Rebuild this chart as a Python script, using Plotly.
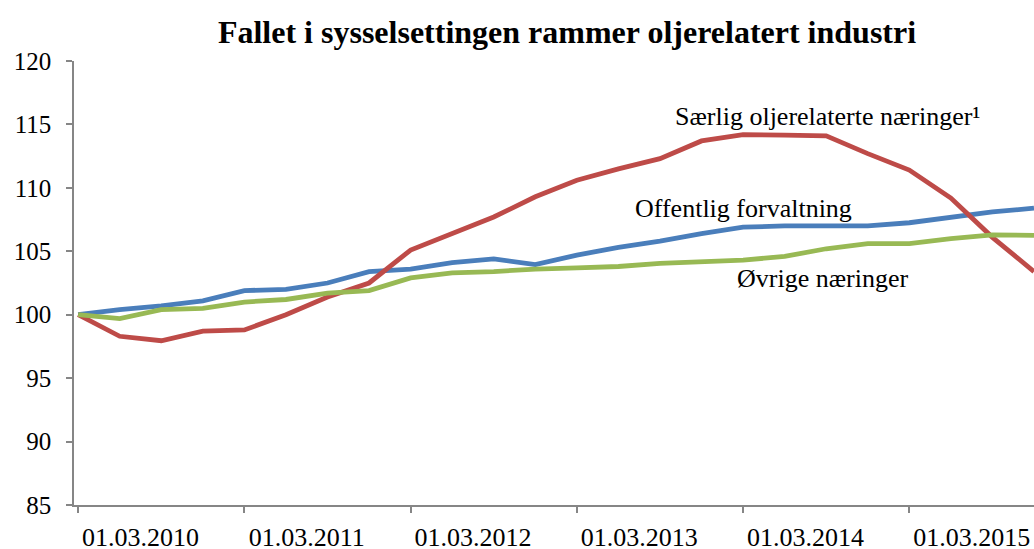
import plotly.graph_objects as go

quarters = list(range(24))
særlig = [100.0, 98.3, 97.95, 98.7, 98.8, 100.0, 101.4, 102.5, 105.1, 106.4, 107.7, 109.3,
          110.6, 111.5, 112.3, 113.7, 114.2, 114.15, 114.1, 112.7, 111.4, 109.2, 106.1, 103.4]
offentlig = [100.0, 100.4, 100.7, 101.1, 101.9, 102.0, 102.5, 103.4, 103.6, 104.1, 104.4, 103.95,
             104.7, 105.3, 105.8, 106.4, 106.9, 107.0, 107.0, 107.0, 107.25, 107.7, 108.1, 108.4]
ovrige = [100.0, 99.7, 100.4, 100.5, 101.0, 101.2, 101.7, 101.9, 102.9, 103.3, 103.4, 103.6,
          103.7, 103.8, 104.05, 104.2, 104.3, 104.6, 105.2, 105.6, 105.6, 106.0, 106.3, 106.25]
year_labels = ["01.03.2010", "01.03.2011", "01.03.2012", "01.03.2013", "01.03.2014", "01.03.2015"]
label_pos = [1.5, 5.5, 9.5, 13.5, 17.5, 21.5]

FONT = "Liberation Serif, Times New Roman, serif"
fig = go.Figure()
fig.add_trace(go.Scatter(x=quarters, y=offentlig, mode="lines",
                         line=dict(color="#4A7EBB", width=4.8), name="Offentlig forvaltning"))
fig.add_trace(go.Scatter(x=quarters, y=særlig, mode="lines",
                         line=dict(color="#BE4B48", width=4.8), name="Særlig oljerelaterte næringer"))
fig.add_trace(go.Scatter(x=quarters, y=ovrige, mode="lines",
                         line=dict(color="#98B954", width=4.8), name="Øvrige næringer"))

annots = [
    ("Særlig oljerelaterte næringer¹", 18.02, 115.64),
    ("Offentlig forvaltning", 16.02, 108.39),
    ("Øvrige næringer", 17.92, 102.87),
]
for t, x, y in annots:
    fig.add_annotation(x=x, y=y, text=t, showarrow=False, xanchor="center", yanchor="middle",
                       font=dict(family=FONT, size=26, color="black"))

fig.update_layout(
    width=1034, height=549,
    margin=dict(l=74, r=0, t=61, b=44, autoexpand=False),
    paper_bgcolor="white", plot_bgcolor="white",
    showlegend=False,
    font=dict(family=FONT, color="black"),
    title=dict(text="<b>Fallet i sysselsettingen rammer oljerelatert industri</b>",
               x=567 / 1034, xanchor="center", y=1 - 32 / 549, yanchor="middle",
               font=dict(family=FONT, size=32, color="black")),
)
fig.update_xaxes(range=[-0.1, 23], showgrid=False, zeroline=False,
                 showline=True, linecolor="#868686", linewidth=1.5,
                 tickmode="array", tickvals=label_pos, ticktext=year_labels,
                 ticks="", ticklabelstandoff=8,
                 tickfont=dict(family=FONT, size=26, color="black"),
                 minor=dict(tick0=0, dtick=4, ticks="outside", ticklen=6,
                            tickcolor="#868686", tickwidth=1.5, showgrid=False))
fig.update_yaxes(range=[85, 120], dtick=5, tick0=85, showgrid=False, zeroline=False,
                 showline=True, linecolor="#868686", linewidth=1.5,
                 ticks="outside", ticklen=6, tickcolor="#868686", tickwidth=1.5,
                 ticklabelstandoff=10,
                 tickfont=dict(family=FONT, size=25, color="black"))
fig.write_html("out.html", config={"displayModeBar": False},
               post_script="document.body.style.margin='0';")
